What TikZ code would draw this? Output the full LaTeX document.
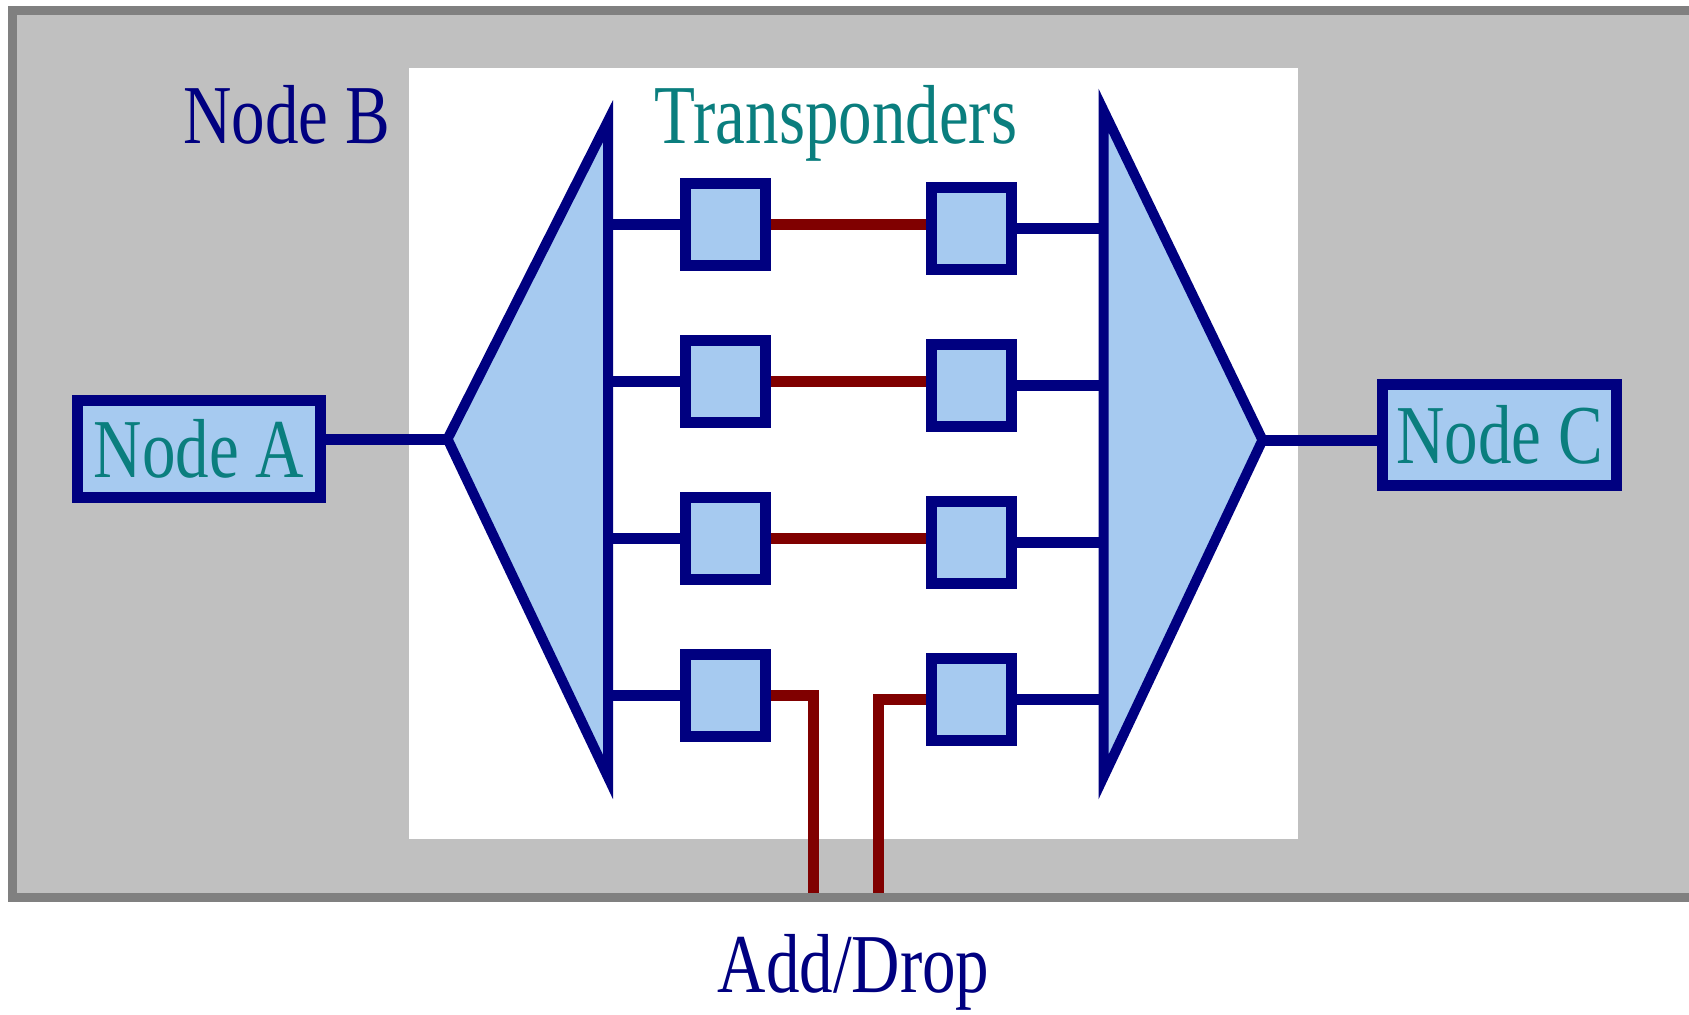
\documentclass[tikz,border=0pt]{standalone}
\usepackage{fontspec}
\setmainfont{Liberation Serif}
\usepackage{graphicx}
\definecolor{navy}{HTML}{000080}
\definecolor{tealc}{HTML}{0A7E7E}
\definecolor{lblue}{HTML}{A6CAF0}
\definecolor{dred}{HTML}{800000}
\definecolor{pgray}{HTML}{C0C0C0}
\definecolor{bgray}{HTML}{808080}
\newcommand{\tx}[1]{\scalebox{1}[1.25]{\fontsize{33.5pt}{40pt}\selectfont #1}}
\begin{document}
\begin{tikzpicture}[x=0.5pt,y=-0.5pt,
  tbox/.style={draw=navy,fill=lblue,line width=5.5pt,minimum width=40pt,minimum height=41pt,inner sep=0pt},
  nbox/.style={draw=navy,fill=lblue,line width=5.5pt,inner sep=0pt,text=tealc},
  bline/.style={draw=navy,line width=5.5pt},
  rline/.style={draw=dred,line width=5.5pt},
  mux/.style={draw=navy,fill=lblue,line width=5pt,line join=miter},
  lbl/.style={inner sep=0pt,anchor=base}]
\useasboundingbox (0,0) rectangle (1689,1014);
\clip (0,0) rectangle (1689,1014);
\fill[white] (0,0) rectangle (1689,1014);
\draw[fill=pgray,draw=bgray,line width=4.5pt] (12,10) rectangle (1730,897);
\fill[white] (409,68) rectangle (1298,839);

% multiplexers
\coordinate (ltop) at (608,121);
\coordinate (lbot) at (608,777);
\coordinate (lapex) at (447.5,439);
\coordinate (rtop) at (1103.5,110.5);
\coordinate (rbot) at (1103.5,777);
\coordinate (rapex) at (1262.5,440);
\draw[mux] (ltop) -- (lbot) -- (lapex) -- cycle;
\draw[mux] (rtop) -- (rbot) -- (rapex) -- cycle;

% transponders
\node[tbox] (L1) at (725.5,224.5) {};
\node[tbox] (L2) at (725.5,381.5) {};
\node[tbox] (L3) at (725.5,538.5) {};
\node[tbox] (L4) at (725.5,695.5) {};
\node[tbox] (R1) at (971.5,228.5) {};
\node[tbox] (R2) at (971.5,385.5) {};
\node[tbox] (R3) at (971.5,542.5) {};
\node[tbox] (R4) at (971.5,699.5) {};

% end nodes
\node[nbox,minimum width=121.5pt,minimum height=48.5pt] (A) at (199,449) {\tx{Node A}};
\node[nbox,minimum width=117pt,minimum height=50.5pt] (C) at (1499.5,435) {\tx{Node C}};

% connectors
\draw[bline] (lapex -| A.east) -- (lapex);
\draw[bline] (rapex) -- (rapex -| C.west);
\foreach \i in {1,2,3,4}{
  \draw[bline] (L\i.west -| ltop) -- (L\i.west);
  \draw[bline] (R\i.east) -- (R\i.east -| rtop);
}
\foreach \i in {1,2,3}{
  \draw[rline] (L\i.east) -- (L\i.east -| R\i.west);
}
\coordinate (adl) at (813,893);
\coordinate (adr) at (878,893);
\draw[rline] (L4.east) -| (adl);
\draw[rline] (R4.west) -| (adr);

% labels
\node[lbl,text=navy] (nb) at (286.5,143) {\tx{Node B}};
\node[lbl,text=tealc] (tr) at (836,143) {\tx{Transponders}};
\node[lbl,text=navy] (ad) at (853.5,992) {\tx{Add/Drop}};
\end{tikzpicture}
\end{document}
